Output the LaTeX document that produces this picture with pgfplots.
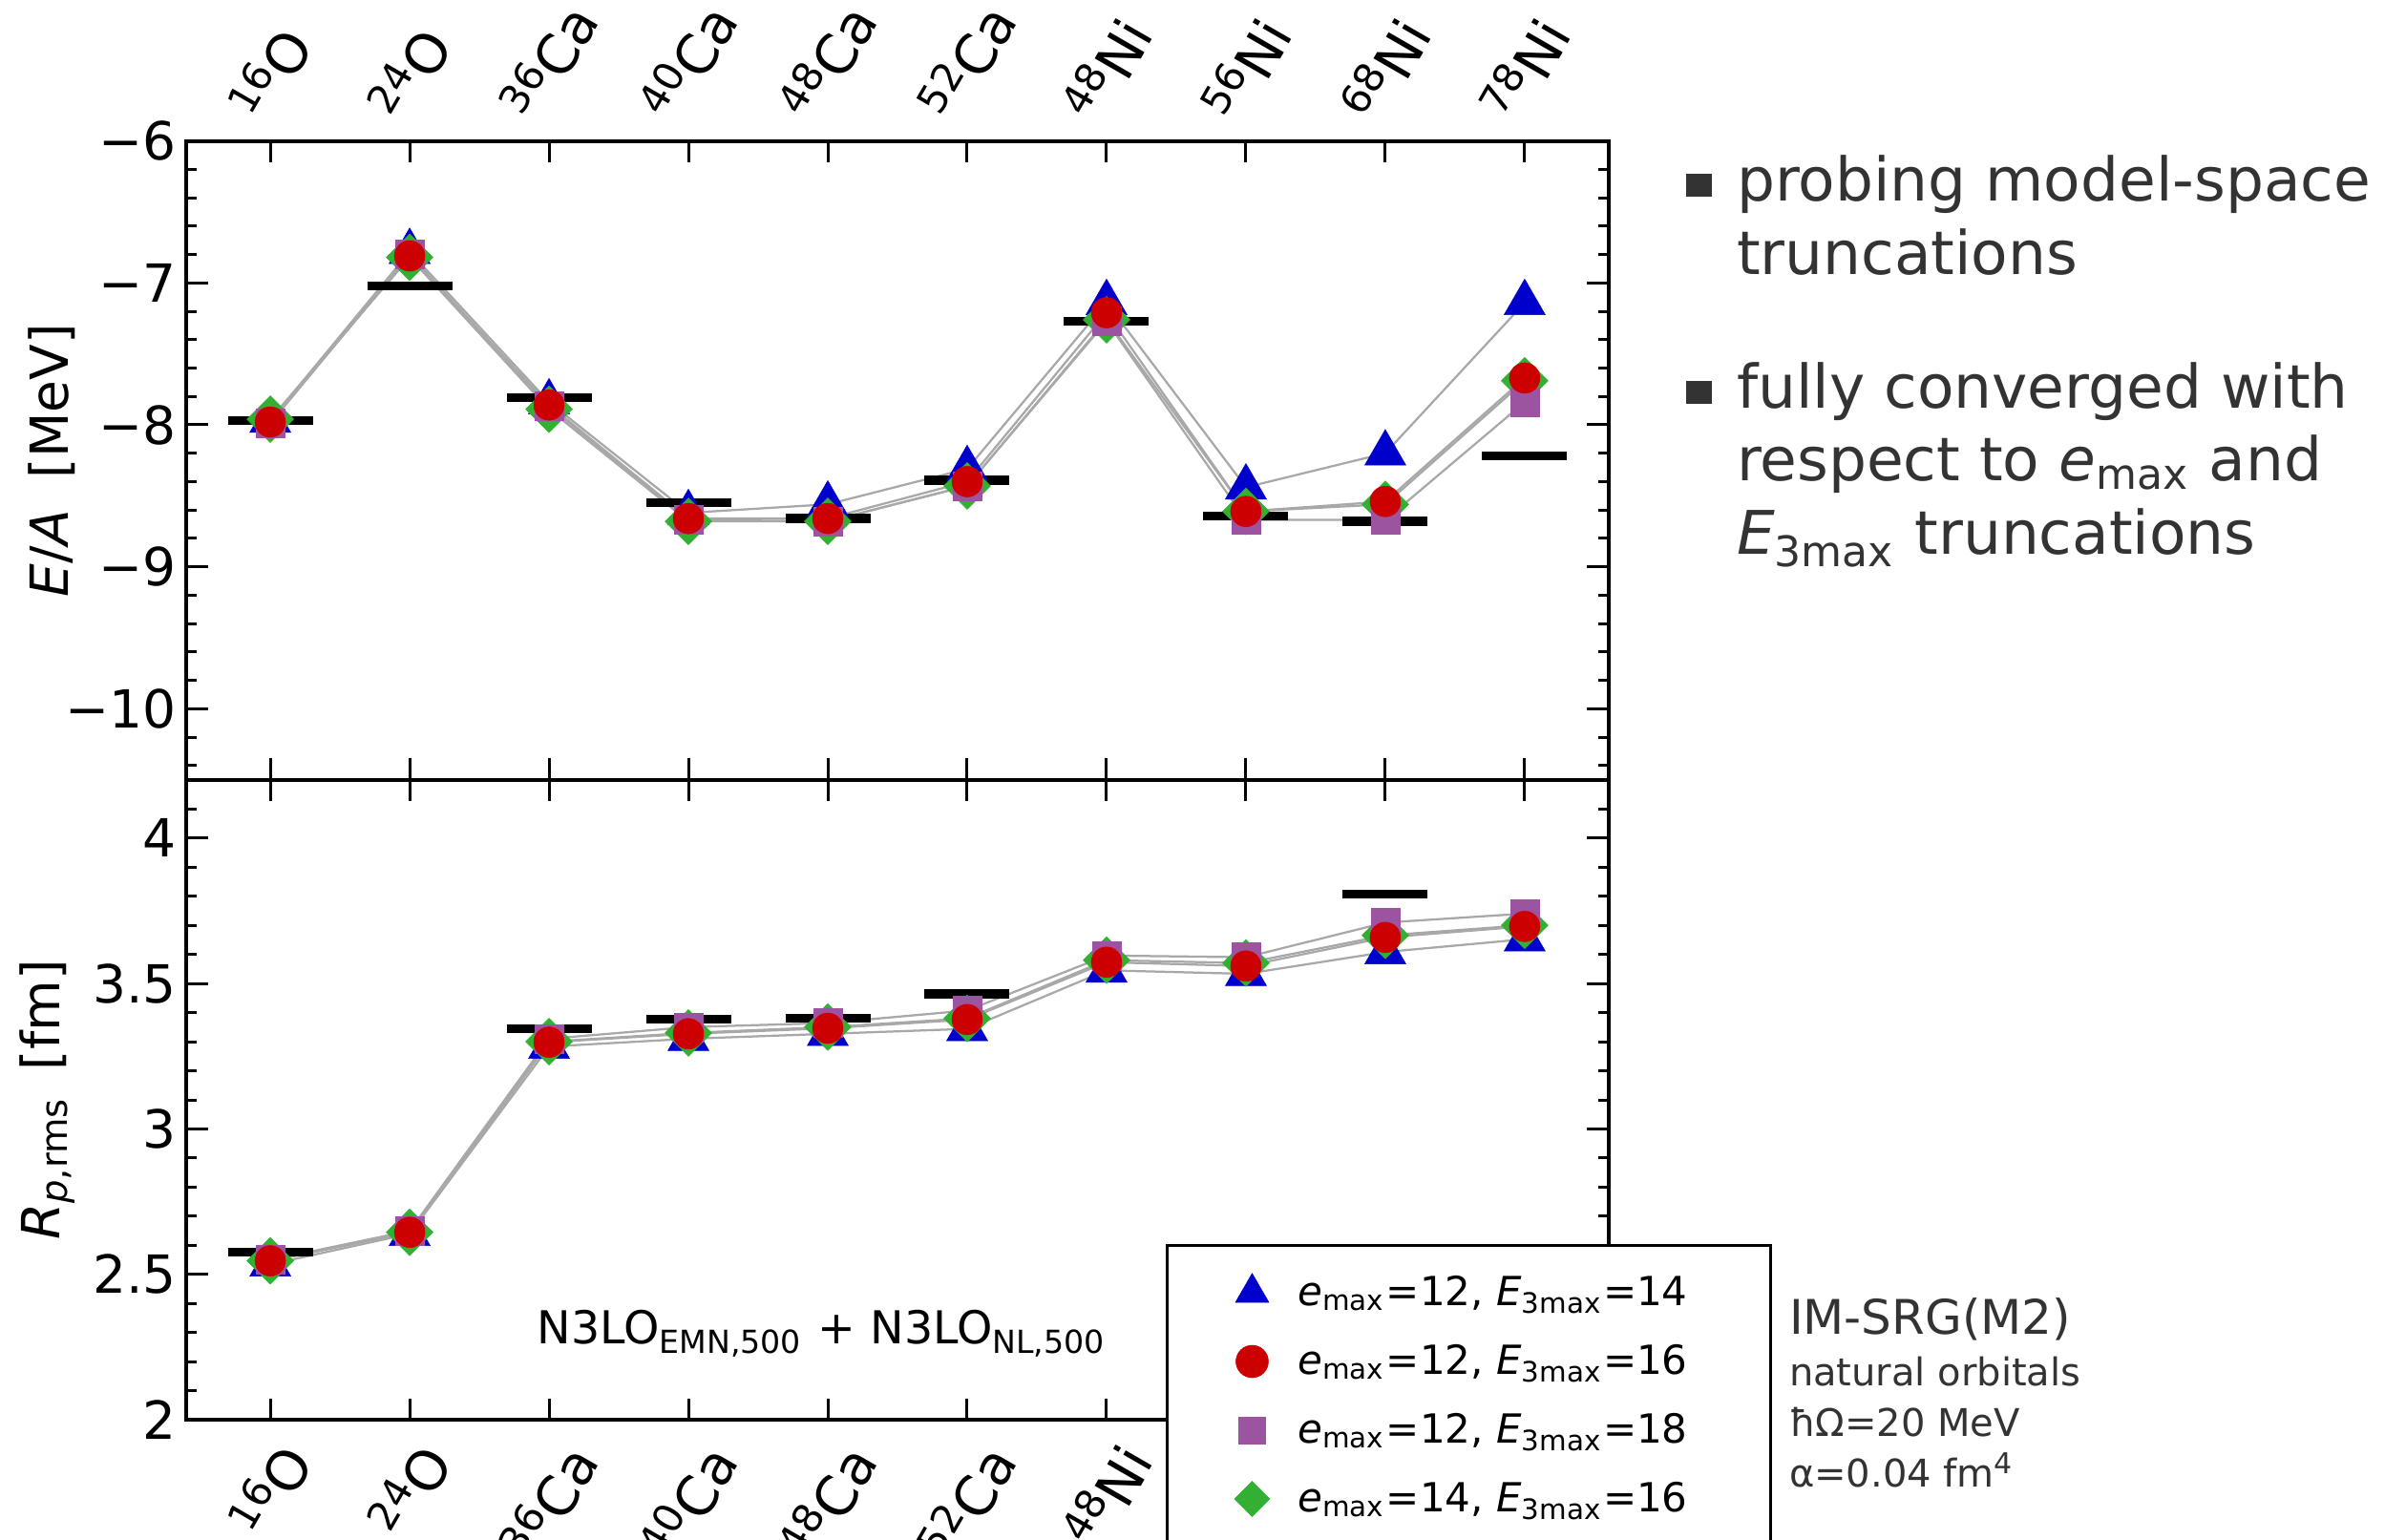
\documentclass[border=0pt]{standalone}
\usepackage{pgfplots}
\pgfplotsset{compat=1.18}
\usepackage{pgfplotstable}
\usepackage{graphicx}
\usepackage{fontspec}
\setmainfont{DejaVu Sans}[ItalicFont={DejaVu Sans Oblique},BoldFont={DejaVu Sans Bold},BoldItalicFont={DejaVu Sans Bold Oblique}]

\definecolor{cblue}{HTML}{0000CC}
\definecolor{cred}{HTML}{CC0000}
\definecolor{cpurple}{HTML}{9C54A0}
\definecolor{cgreen}{HTML}{33B033}
\definecolor{lgray}{HTML}{A8A8A8}
\definecolor{tgray}{HTML}{333333}

\pgfdeclareplotmark{rhomb*}{%
  \pgfpathmoveto{\pgfqpoint{0pt}{\pgfplotmarksize}}%
  \pgfpathlineto{\pgfqpoint{\pgfplotmarksize}{0pt}}%
  \pgfpathlineto{\pgfqpoint{0pt}{-\pgfplotmarksize}}%
  \pgfpathlineto{\pgfqpoint{-\pgfplotmarksize}{0pt}}%
  \pgfpathclose\pgfusepathqfillstroke}
\pgfdeclareplotmark{hbar}{%
  \pgfpathmoveto{\pgfqpoint{-\pgfplotmarksize}{0pt}}%
  \pgfpathlineto{\pgfqpoint{\pgfplotmarksize}{0pt}}%
  \pgfusepathqstroke}

\newcommand{\iso}[2]{\rotatebox{60}{\raisebox{4.2pt}{\fontsize{8.4}{10}\selectfont #1}#2}}

\pgfplotstableread{
x tri cir sq dia
0 -7.97 -7.98 -7.99 -7.96
1 -6.78 -6.81 -6.80 -6.82
2 -7.84 -7.86 -7.87 -7.89
3 -8.62 -8.66 -8.67 -8.68
4 -8.56 -8.66 -8.68 -8.68
5 -8.31 -8.40 -8.43 -8.43
6 -7.14 -7.21 -7.27 -7.26
7 -8.44 -8.61 -8.67 -8.61
8 -8.20 -8.54 -8.67 -8.56
9 -7.14 -7.67 -7.84 -7.69
}\Edata
\pgfplotstableread{
x y
0 -7.97
1 -7.02
2 -7.81
3 -8.55
4 -8.66
5 -8.39
6 -7.27
7 -8.64
8 -8.68
9 -8.22
}\Ebars
\pgfplotstableread{
x tri cir sq dia
0 2.535 2.547 2.550 2.547
1 2.640 2.645 2.650 2.645
2 3.283 3.298 3.310 3.300
3 3.310 3.327 3.350 3.330
4 3.327 3.346 3.364 3.350
5 3.344 3.376 3.407 3.380
6 3.545 3.573 3.596 3.580
7 3.533 3.560 3.590 3.570
8 3.608 3.658 3.709 3.665
9 3.652 3.696 3.740 3.700
}\Rdata
\pgfplotstableread{
x y
0 2.576
2 3.345
3 3.378
4 3.381
5 3.464
8 3.808
}\Rbars

\pgfplotsset{
  panel/.style={
    scale only axis, width=297.8pt,
    xmin=-0.6, xmax=9.6, xtick={0,...,9},
    xticklabels={\iso{16}{O},\iso{24}{O},\iso{36}{Ca},\iso{40}{Ca},\iso{48}{Ca},\iso{52}{Ca},\iso{48}{Ni},\iso{56}{Ni},\iso{68}{Ni},\iso{78}{Ni}},
    tick align=inside, major tick length=4.5pt, minor tick length=2.2pt,
    every tick/.style={black, line width=0.6pt},
    axis line style={line width=0.8pt},
    tick label style={font=\fontsize{11}{13}\selectfont},
    xticklabel style={font=\fontsize{11.5}{14}\selectfont},
    yticklabel style={inner xsep=2pt},
    label style={font=\fontsize{11}{13}\selectfont},
    clip=false,
  },
  gline/.style={forget plot, lgray, line width=0.45pt, mark=none},
  bars/.style={forget plot, only marks, mark=hbar, mark size=8.9pt, mark options={black, line width=1.85pt}},
  mtri/.style={forget plot, only marks, mark=triangle*, mark size=4.97pt, mark options={fill=cblue, draw=cblue, line width=0.1pt}},
  mcir/.style={forget plot, only marks, mark=*, mark size=3.2pt, mark options={fill=cred, draw=cred, line width=0.1pt}},
  msq/.style={forget plot, only marks, mark=square*, mark size=3pt, mark options={fill=cpurple, draw=cpurple, line width=0.1pt}},
  mdia/.style={forget plot, only marks, mark=rhomb*, mark size=4.9pt, mark options={fill=cgreen, draw=cgreen, line width=0.1pt}},
}

\begin{document}
\begin{tikzpicture}
% upper panel
\begin{axis}[panel, at={(39.1pt,159.26pt)}, anchor=south west, height=133.8pt,
  ymin=-10.5, ymax=-6, ytick={-10,-9,-8,-7,-6}, yticklabels={−10,−9,−8,−7,−6},
  minor ytick={-10.4,-10.2,-9.8,-9.6,-9.4,-9.2,-8.8,-8.6,-8.4,-8.2,-7.8,-7.6,-7.4,-7.2,-6.8,-6.6,-6.4,-6.2},
  xticklabel pos=upper,
  xticklabel style={inner ysep=2.6pt},
  ylabel={\textit{E}/\textit{A}\hspace{0.6em}[MeV]},
  ylabel style={at={(axis description cs:-0.0948,0.5)}, anchor=center},
]
\addplot[gline] table[x=x,y=tri] {\Edata};
\addplot[gline] table[x=x,y=cir] {\Edata};
\addplot[gline] table[x=x,y=sq] {\Edata};
\addplot[gline] table[x=x,y=dia] {\Edata};
\addplot[bars] table[x=x,y=y] {\Ebars};
\addplot[mtri] table[x=x,y=tri] {\Edata};
\addplot[mdia] table[x=x,y=dia] {\Edata};
\addplot[msq] table[x=x,y=sq] {\Edata};
\addplot[mcir] table[x=x,y=cir] {\Edata};
\end{axis}
% lower panel
\begin{axis}[panel, at={(39.1pt,25.12pt)}, anchor=south west, height=134.14pt,
  ymin=2, ymax=4.2, ytick={2,2.5,3,3.5,4}, yticklabels={2,2.5,3,3.5,4},
  minor ytick={2.1,2.2,2.3,2.4,2.6,2.7,2.8,2.9,3.1,3.2,3.3,3.4,3.6,3.7,3.8,3.9,4.1},
  xticklabel pos=lower,
  ylabel={\textit{R}\textsubscript{\textit{p},rms}\hspace{0.5em}[fm]},
  ylabel style={at={(axis description cs:-0.0982,0.5)}, anchor=center},
  legend image code/.code={\path[draw=none,fill=none] (-4.5pt,-4.5pt) rectangle (4.5pt,4.5pt); \draw[#1] plot coordinates {(0pt,0pt)};},
  legend cell align=left,
  legend style={at={(0.6887,0.2745)}, anchor=north west, draw=black, line width=0.6pt, fill=white,
    font=\fontsize{8.4}{10}\selectfont, inner xsep=13.3pt, inner ysep=3.1pt, row sep=0.9pt, column sep=3.1pt,
    nodes={inner sep=2pt, text height=7.5pt, text depth=2pt}},
]
\addplot[gline] table[x=x,y=tri] {\Rdata};
\addplot[gline] table[x=x,y=cir] {\Rdata};
\addplot[gline] table[x=x,y=sq] {\Rdata};
\addplot[gline] table[x=x,y=dia] {\Rdata};
\addplot[bars] table[x=x,y=y] {\Rbars};
\addplot[mtri] table[x=x,y=tri] {\Rdata};
\addplot[mdia] table[x=x,y=dia] {\Rdata};
\addplot[msq] table[x=x,y=sq] {\Rdata};
\addplot[mcir] table[x=x,y=cir] {\Rdata};
\addlegendimage{mark=triangle*, mark size=4.05pt, mark options={fill=cblue, draw=cblue, line width=0.1pt}}
\addlegendentry{\textit{e}\textsubscript{max}=12, \textit{E}\textsubscript{3max}=14\hspace*{2pt}}
\addlegendimage{mark=*, mark size=3.4pt, mark options={fill=cred, draw=cred, line width=0.1pt}}
\addlegendentry{\textit{e}\textsubscript{max}=12, \textit{E}\textsubscript{3max}=16\hspace*{2pt}}
\addlegendimage{mark=square*, mark size=2.8pt, mark options={fill=cpurple, draw=cpurple, line width=0.1pt}}
\addlegendentry{\textit{e}\textsubscript{max}=12, \textit{E}\textsubscript{3max}=18\hspace*{2pt}}
\addlegendimage{mark=rhomb*, mark size=3.7pt, mark options={fill=cgreen, draw=cgreen, line width=0.1pt}}
\addlegendentry{\textit{e}\textsubscript{max}=14, \textit{E}\textsubscript{3max}=16\hspace*{2pt}}
\end{axis}
% annotations
\node[anchor=base, font=\fontsize{9.5}{11}\selectfont, inner sep=0pt] at (172.2pt,41pt) {N3LO\textsubscript{EMN,500} + N3LO\textsubscript{NL,500}};
\begin{scope}[every node/.style={anchor=base west, text=tgray, inner sep=0pt, font=\fontsize{12.6}{15}\selectfont}]
\node at (353pt,280.4pt) {\rule[1pt]{5.4pt}{4.8pt}\hspace{5.2pt}probing model-space};
\node at (363.6pt,265pt) {truncations};
\node at (353pt,237pt) {\rule[1pt]{5.4pt}{4.8pt}\hspace{5.2pt}fully converged with};
\node at (363.6pt,221.8pt) {respect to \textit{e}\textsubscript{max} and};
\node at (363.6pt,206.4pt) {\textit{E}\textsubscript{3max} truncations};
\end{scope}
\begin{scope}[every node/.style={anchor=base west, text=tgray, inner sep=0pt, font=\fontsize{8}{10}\selectfont}]
\node[font=\fontsize{10}{12}\selectfont] at (374.6pt,43pt) {IM-SRG(M2)};
\node at (374.6pt,32.2pt) {natural orbitals};
\node at (374.6pt,21.6pt) {ħΩ=20 MeV};
\node at (374.6pt,11pt) {α=0.04 fm\textsuperscript{4}};
\end{scope}
\pgfresetboundingbox
\path[use as bounding box] (0,0) rectangle (504pt,322.6pt);
\end{tikzpicture}
\end{document}
